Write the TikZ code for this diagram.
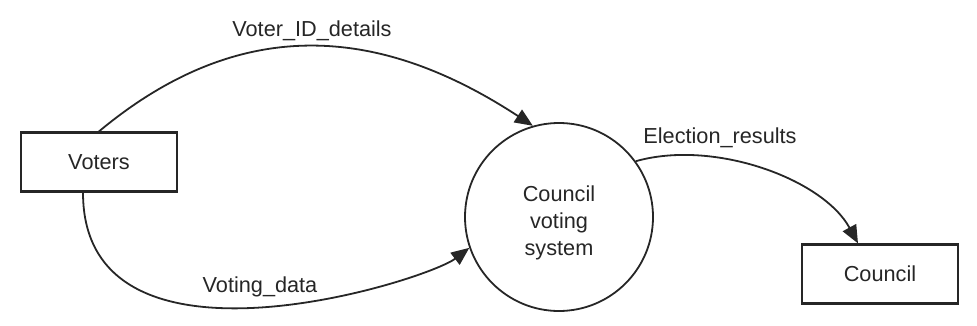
\documentclass[tikz,border=0pt]{standalone}
\usepackage{fontspec}
\setmainfont{Liberation Sans}
\usetikzlibrary{arrows.meta}
\begin{document}
\begin{tikzpicture}[x=1pt,y=-1pt,
  every node/.style={font=\fontsize{21.7pt}{27pt}\selectfont, text=black!85},
  entity/.style={draw=black!85, line width=2.2pt, rectangle, minimum width=156pt, minimum height=59pt, inner sep=0pt},
  proc/.style={draw=black!85, line width=1.8pt, circle, minimum size=188pt, inner sep=0pt},
  flow/.style={draw=black!85, line width=1.8pt, -{Triangle[length=18pt,width=15pt]}},
  lbl/.style={inner sep=0pt}]
\useasboundingbox (0,0) rectangle (977,326);
\node[entity] (voters) at (99,162) {Voters};
\node[entity] (council) at (880,274) {Council};
\node[proc] (sys) at (559,217) {\raisebox{-6pt}[\height][\depth]{\begin{tabular}{@{}c@{}}Council\\voting\\system\end{tabular}}};
\coordinate (vs) at ([xshift=-16pt]voters.south);
\coordinate (cn) at ([xshift=-22pt]council.north);
\draw[flow] (voters.north) .. controls (240,14) and (379,25) .. (sys.106);
\draw[flow] (vs) .. controls (83,389) and (426,281) .. (sys.199);
\draw[flow] (sys.36) .. controls (714,139) and (823,179) .. (cn);
\node[lbl] (l1) at (312,31) {Voter\_ID\_details};
\node[lbl] (l2) at (260,287) {Voting\_data};
\node[lbl] (l3) at (720,138) {Election\_results};
\end{tikzpicture}
\end{document}
